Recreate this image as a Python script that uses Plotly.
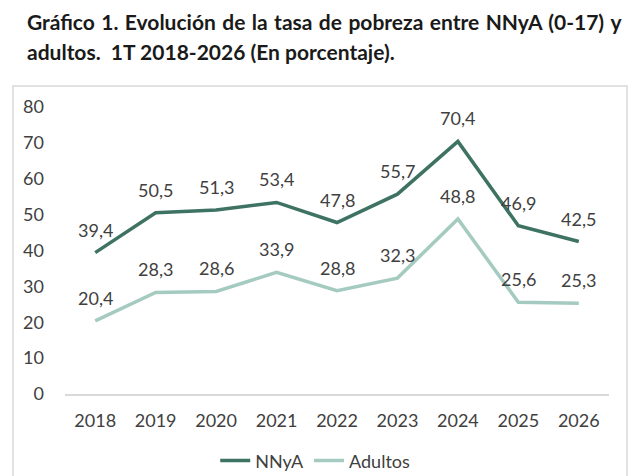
import plotly.graph_objects as go

years = ["2018", "2019", "2020", "2021", "2022", "2023", "2024", "2025", "2026"]
nnya = [39.4, 50.5, 51.3, 53.4, 47.8, 55.7, 70.4, 46.9, 42.5]
adultos = [20.4, 28.3, 28.6, 33.9, 28.8, 32.3, 48.8, 25.6, 25.3]

txt = "#404040"
fnt = "Lato, 'Open Sans', sans-serif"


def lbl(v):
    return f"{v:.1f}".replace(".", ",")


fig = go.Figure()
fig.add_trace(go.Scatter(x=years, y=nnya, name="NNyA", mode="lines",
                         line=dict(color="#3e7363", width=3.5)))
fig.add_trace(go.Scatter(x=years, y=adultos, name="Adultos", mode="lines",
                         line=dict(color="#a5cbc0", width=3.5)))

# data labels above each point (x given as category index)
annos = []
for serie in (nnya, adultos):
    for i, v in enumerate(serie):
        annos.append(dict(x=i, y=v, text=lbl(v), showarrow=False, yshift=23,
                          xanchor="center", yanchor="middle",
                          font=dict(size=18, color=txt, family=fnt)))

# title, first line stretched a little like justified text
line1 = "Gráfico 1. Evolución de la tasa de pobreza entre NNyA (0-17) y".replace(" ", " \u200a")
annos.append(dict(text="<b>" + line1 + "</b>",
                  xref="paper", yref="paper", x=-0.074, y=1.297, xanchor="left", yanchor="middle",
                  showarrow=False, font=dict(size=21, color="#1a1a1a", family=fnt)))
annos.append(dict(text="<b>adultos.  1T 2018-2026 (En porcentaje).</b>",
                  xref="paper", yref="paper", x=-0.074, y=1.195, xanchor="left", yanchor="middle",
                  showarrow=False, font=dict(size=21, color="#1a1a1a", family=fnt)))

fig.update_layout(
    width=640, height=476,
    margin=dict(l=57, r=39, t=99, b=90, autoexpand=False),
    paper_bgcolor="white", plot_bgcolor="white",
    font=dict(family=fnt, size=18, color=txt),
    showlegend=True,
    legend=dict(orientation="h", x=0.46, xanchor="center", y=-0.233, yanchor="middle",
                font=dict(size=18, color=txt), tracegroupgap=0),
    xaxis=dict(type="category", range=[-0.5, 8.5], showgrid=False, showline=True,
               linecolor="#d9d9d9", linewidth=1.5, ticks="",
               tickfont=dict(size=18, color=txt), ticklabelstandoff=10, automargin=False),
    yaxis=dict(range=[0, 80], dtick=10, showgrid=False, zeroline=False,
               ticks="", tickfont=dict(size=18, color=txt), ticklabelstandoff=20,
               automargin=False),
    shapes=[dict(type="rect", xref="paper", yref="paper",
                 x0=-0.0956, x1=1.033, y0=-0.4, y1=1.073,
                 line=dict(color="#d9d9d9", width=1.5), layer="below")],
    annotations=annos,
)

fig.write_html("out.html")
